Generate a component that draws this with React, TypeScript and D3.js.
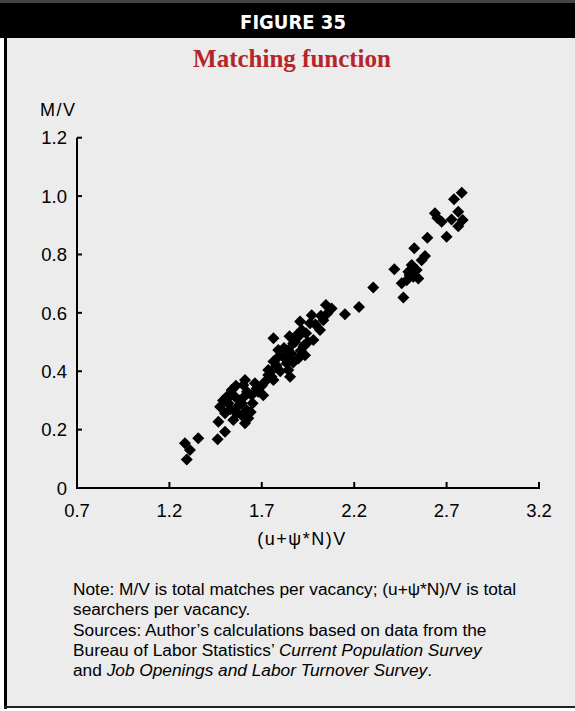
import React from "react";
import * as d3 from "d3";

const searchersPerVacancy = [
  1.284, 1.294, 1.311, 1.356, 1.461, 1.501, 1.465, 1.501, 1.474, 1.519, 1.51, 1.555, 1.537, 1.6, 1.591, 1.618, 1.564, 1.546, 1.627, 1.609,
  1.645, 1.672, 1.708, 1.735, 1.717, 1.609, 1.663, 1.58, 1.53, 1.49, 1.57, 1.62, 1.56, 1.68, 1.65, 1.7, 1.6, 1.64, 1.59, 1.52,
  1.763, 1.753, 1.853, 1.735, 1.843, 1.763, 1.835, 1.816, 1.898, 1.789, 1.843, 1.934, 1.925, 1.87, 1.763, 1.979, 1.889, 1.916, 1.907, 2.015,
  1.961, 1.97, 2.033, 2.054, 2.078, 2.047, 2.15, 1.78, 1.8, 1.82, 1.86, 1.88, 1.9, 1.94, 1.95, 1.85, 1.87, 1.79, 1.99, 2.02,
  1.93, 1.84, 1.91, 1.75,
  2.226, 2.303, 2.417, 2.466, 2.457, 2.484, 2.52, 2.547, 2.493, 2.538, 2.511, 2.583, 2.525, 2.596, 2.7, 2.637, 2.673, 2.727, 2.763, 2.787,
  2.763, 2.74, 2.782, 2.65, 2.5, 2.565,
];
const matchesPerVacancy = [
  0.153, 0.098, 0.13, 0.17, 0.167, 0.193, 0.227, 0.256, 0.278, 0.29, 0.313, 0.313, 0.336, 0.353, 0.29, 0.267, 0.256, 0.233, 0.239, 0.222,
  0.318, 0.341, 0.318, 0.387, 0.364, 0.37, 0.359, 0.3, 0.27, 0.3, 0.28, 0.33, 0.35, 0.33, 0.29, 0.35, 0.31, 0.26, 0.25, 0.31,
  0.37, 0.381, 0.381, 0.404, 0.404, 0.433, 0.427, 0.45, 0.444, 0.473, 0.473, 0.455, 0.484, 0.496, 0.513, 0.507, 0.524, 0.541, 0.57, 0.541,
  0.564, 0.592, 0.575, 0.598, 0.615, 0.627, 0.595, 0.42, 0.4, 0.48, 0.46, 0.5, 0.52, 0.53, 0.5, 0.52, 0.43, 0.45, 0.56, 0.59,
  0.49, 0.44, 0.47, 0.4,
  0.62, 0.687, 0.749, 0.653, 0.701, 0.712, 0.724, 0.718, 0.741, 0.747, 0.764, 0.795, 0.821, 0.857, 0.861, 0.941, 0.912, 0.92, 0.897, 0.918,
  0.946, 0.989, 1.011, 0.925, 0.73, 0.78,
];

const xTicks = [0.7, 1.2, 1.7, 2.2, 2.7, 3.2];
const xTickLabels = ["0.7", "1.2", "1.7", "2.2", "2.7", "3.2"];
const yTicks = [0, 0.2, 0.4, 0.6, 0.8, 1.0, 1.2];
const yTickLabels = ["0", "0.2", "0.4", "0.6", "0.8", "1.0", "1.2"];

const W = 575;
const H = 711;
const SANS = "'Liberation Sans', Arial, Helvetica, sans-serif";

export default function App() {
  const x = d3.scaleLinear().domain([0.7, 3.2]).range([77, 539]);
  const y = d3.scaleLinear().domain([0, 1.2]).range([488, 137.7]);
  const diamond = d3.symbol().type(d3.symbolSquare).size(72)() as string;
  const pts = searchersPerVacancy.map((v, i) => [v, matchesPerVacancy[i]]);

  return (
    <svg width={W} height={H} style={{ position: "absolute", left: 0, top: 0, display: "block" }}>
      <rect x={0} y={0} width={W} height={H} fill="#ffffff" />
      <rect x={5} y={38} width={W - 5} height={669} fill="#ececec" />
      {/* header */}
      <rect x={0} y={0} width={W} height={3} fill="#444" />
      <rect x={0} y={3} width={W} height={35} fill="#000" />
      <text x={293} y={29} textAnchor="middle" fill="#fff" fontFamily="'DejaVu Sans Condensed', 'Liberation Sans Narrow', sans-serif" fontWeight="bold" fontSize={20}>
        FIGURE 35
      </text>
      {/* borders */}
      <rect x={4} y={38} width={3} height={671} fill="#000" />
      <rect x={4} y={706} width={W - 4} height={2} fill="#222" />
      {/* title */}
      <text x={292} y={67} textAnchor="middle" fill="#b5262a" fontFamily="'Liberation Serif', 'Times New Roman', serif" fontWeight="bold" fontSize={25}>
        Matching function
      </text>
      {/* y axis label */}
      <text x={40} y={116} fontFamily={SANS} fontSize={18} letterSpacing={1.5} fill="#000">M/V</text>
      {/* axes */}
      <line x1={x(0.7)} x2={x(0.7)} y1={y(1.2)} y2={y(0) + 1} stroke="#000" strokeWidth={2} />
      <line x1={x(0.7) - 1} x2={x(3.2) + 1} y1={y(0)} y2={y(0)} stroke="#000" strokeWidth={2} />
      {yTicks.map((t, i) => (
        <g key={"yt" + i}>
          {t > 0 && <line x1={x(0.7)} x2={x(0.7) + 5} y1={y(t)} y2={y(t)} stroke="#000" strokeWidth={2} />}
          <text x={67} y={y(t)} dy="0.36em" textAnchor="end" fontFamily={SANS} fontSize={18.5} fill="#000">
            {yTickLabels[i]}
          </text>
        </g>
      ))}
      {xTicks.map((t, i) => (
        <g key={"xt" + i}>
          {i > 0 && <line x1={x(t)} x2={x(t)} y1={y(0)} y2={y(0) - 6} stroke="#000" strokeWidth={2} />}
          <text x={x(t)} y={517} textAnchor="middle" fontFamily={SANS} fontSize={18.5} fill="#000">
            {xTickLabels[i]}
          </text>
        </g>
      ))}
      <text x={302} y={545} textAnchor="middle" fontFamily={SANS} fontSize={18} letterSpacing={1.5} fill="#000">
        (u+ψ*N)V
      </text>
      {/* points */}
      {pts.map((p, i) => (
        <path key={"p" + i} d={diamond} transform={`translate(${x(p[0])},${y(p[1])}) rotate(45)`} fill="#000" />
      ))}
      {/* note */}
      <g fontFamily={SANS} fontSize={17.3} fill="#000">
        <text x={73} y={595}>Note: M/V is total matches per vacancy; (u+ψ*N)/V is total</text>
        <text x={73} y={615}>searchers per vacancy.</text>
        <text x={73} y={636}>Sources: Author’s calculations based on data from the</text>
        <text x={73} y={656}>
          Bureau of Labor Statistics’ <tspan fontStyle="italic">Current Population Survey</tspan>
        </text>
        <text x={73} y={676}>
          and <tspan fontStyle="italic">Job Openings and Labor Turnover Survey</tspan>.
        </text>
      </g>
    </svg>
  );
}
